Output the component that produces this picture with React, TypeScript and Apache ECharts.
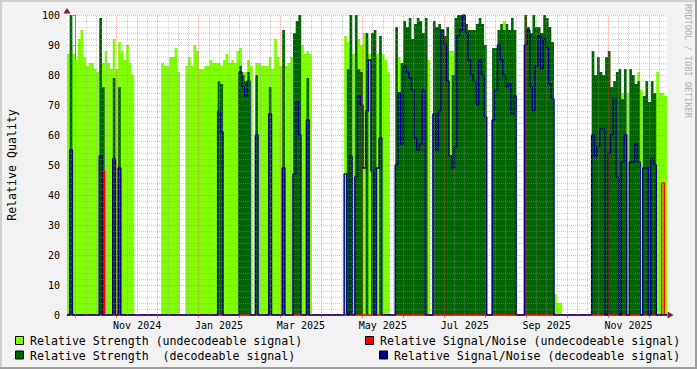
import React, { useEffect, useRef } from "react";
import * as echarts from "echarts";

// x axis: months since 1 Oct 2024 (one unit = one month column of the RRD grid)
const X_MIN = -0.2125;
const X_MAX = 14.4396;
const MONTH_TICKS = [0, 1, 2, 3, 4, 5, 6, 7, 8, 9, 10, 11, 12, 13, 14];
const X_LABEL_MONTHS = [1, 3, 5, 7, 9, 11, 13];
const X_LABELS = ["Nov 2024", "Jan 2025", "Mar 2025", "May 2025", "Jul 2025", "Sep 2025", "Nov 2025"];
const Y_TITLE = "Relative Quality";
const WATERMARK = "RRDTOOL / TOBI OETIKER";

const SERIES_NAMES = [
  "Relative Strength (undecodeable signal)",
  "Relative Signal/Noise (undecodeable signal)",
  "Relative Strength  (decodeable signal)",
  "Relative Signal/Noise (decodeable signal)",
];
const COLORS = ["#7FFF00", "#FF0000", "#006400", "#00008B"];

// one sample = 2 days
const STRENGTH_UNDECODEABLE = [
  87, 90, 87, 85, 92, 95, 86, 83, 84, 84,
  82, 81, 94, 84, 88, 84, 82, 92, 82, 91,
  88, 85, 90, 84, 80, 0, 0, 0, 0, 0,
  0, 0, 0, 0, 0, 84, 83, 83, 86, 86,
  89, 81, 0, 0, 83, 86, 83, 90, 88, 82,
  82, 83, 83, 85, 84, 84, 84, 83, 85, 87,
  84, 85, 84, 88, 89, 81, 81, 85, 83, 0,
  84, 84, 83, 83, 83, 86, 82, 92, 86, 83,
  90, 83, 84, 86, 92, 96, 94, 90, 87, 88,
  87, 0, 0, 0, 0, 0, 0, 0, 0, 0,
  0, 0, 0, 93, 91, 89, 87, 88, 92, 90,
  94, 92, 87, 88, 86, 87, 88, 87, 85, 81,
  0, 0, 0, 86, 84, 86, 0, 86, 0, 86,
  0, 0, 0, 93, 85, 0, 0, 0, 0, 0,
  0, 0, 88, 88, 0, 0, 0, 0, 0, 0,
  0, 0, 0, 0, 0, 0, 0, 0, 0, 0,
  0, 0, 98, 0, 0, 0, 0, 0, 0, 0,
  0, 0, 0, 0, 0, 0, 0, 0, 0, 0,
  0, 7, 4, 4, 0, 0, 0, 0, 0, 0,
  0, 0, 0, 0, 0, 0, 0, 0, 0, 0,
  0, 0, 0, 0, 0, 71, 74, 0, 74, 0,
  0, 0, 81, 75, 0, 0, 0, 0, 72, 81,
  74, 74, 73,
];

const SNR_UNDECODEABLE = [
  0, 0, 0, 0, 0, 0, 0, 0, 0, 0,
  0, 0, 0, 48, 0, 0, 0, 0, 0, 0,
  0, 0, 0, 0, 0, 0, 0, 0, 0, 0,
  0, 0, 0, 0, 0, 0, 0, 0, 0, 0,
  0, 0, 0, 0, 0, 0, 0, 0, 0, 0,
  0, 0, 0, 0, 0, 0, 0, 0, 0, 0,
  0, 0, 0, 0, 0, 0, 0, 0, 0, 0,
  0, 0, 0, 0, 0, 0, 0, 0, 0, 0,
  0, 0, 0, 0, 0, 0, 0, 0, 0, 0,
  0, 0, 0, 0, 0, 0, 0, 0, 0, 0,
  0, 0, 0, 0, 0, 0, 0, 0, 0, 0,
  0, 0, 0, 0, 0, 0, 0, 0, 0, 0,
  0, 0, 0, 0, 0, 0, 0, 0, 0, 0,
  0, 0, 0, 0, 0, 0, 0, 0, 0, 0,
  0, 0, 0, 0, 0, 0, 0, 0, 0, 0,
  0, 0, 0, 0, 0, 0, 0, 0, 0, 0,
  0, 0, 0, 0, 0, 0, 0, 0, 0, 0,
  0, 0, 0, 0, 0, 0, 0, 0, 0, 0,
  0, 0, 0, 0, 0, 0, 0, 0, 0, 0,
  0, 0, 0, 0, 0, 0, 0, 0, 0, 0,
  0, 0, 0, 0, 0, 0, 0, 0, 0, 0,
  0, 0, 0, 0, 0, 0, 0, 0, 0, 0,
  0, 44, 0,
];

const STRENGTH_DECODEABLE = [
  0, 100, 0, 0, 0, 0, 0, 0, 0, 0,
  0, 0, 99, 76, 0, 0, 0, 79, 0, 76,
  0, 0, 0, 0, 0, 0, 0, 0, 0, 0,
  0, 0, 0, 0, 0, 0, 0, 0, 0, 0,
  0, 0, 0, 0, 0, 0, 0, 0, 0, 0,
  0, 0, 0, 0, 0, 0, 78, 77, 0, 0,
  0, 0, 0, 0, 83, 80, 78, 81, 0, 0,
  80, 0, 0, 0, 0, 76, 0, 0, 0, 0,
  95, 0, 0, 0, 94, 98, 100, 0, 0, 79,
  0, 0, 0, 0, 0, 0, 0, 0, 0, 0,
  0, 0, 0, 0, 82, 100, 0, 100, 82, 81,
  0, 94, 0, 94, 95, 0, 93, 0, 0, 0,
  0, 0, 96, 74, 84, 98, 96, 99, 92, 97,
  99, 98, 94, 99, 0, 0, 98, 96, 97, 95,
  93, 96, 53, 80, 99, 100, 100, 100, 97, 95,
  95, 95, 97, 99, 97, 90, 0, 0, 89, 89,
  95, 97, 95, 97, 95, 99, 95, 0, 0, 0,
  100, 96, 94, 100, 96, 96, 94, 100, 99, 96,
  91, 0, 0, 0, 0, 0, 0, 0, 0, 0,
  0, 0, 0, 0, 0, 88, 80, 86, 81, 80,
  86, 88, 76, 78, 81, 82, 72, 82, 0, 82,
  80, 77, 78, 0, 73, 78, 71, 78, 74, 0,
  0, 0, 0,
];

const SNR_DECODEABLE = [
  0, 55, 0, 0, 0, 0, 0, 0, 0, 0,
  0, 0, 53, 0, 0, 0, 0, 52, 0, 49,
  0, 0, 0, 0, 0, 0, 0, 0, 0, 0,
  0, 0, 0, 0, 0, 0, 0, 0, 0, 0,
  0, 0, 0, 0, 0, 0, 0, 0, 0, 0,
  0, 0, 0, 0, 0, 0, 68, 61, 0, 0,
  0, 0, 0, 0, 81, 76, 73, 78, 0, 0,
  60, 0, 0, 0, 0, 67, 0, 0, 0, 0,
  49, 0, 0, 0, 47, 71, 60, 0, 0, 65,
  0, 0, 0, 0, 0, 0, 0, 0, 0, 0,
  0, 0, 0, 47, 0, 53, 0, 46, 73, 70,
  49, 68, 85, 48, 0, 49, 59, 0, 0, 0,
  0, 0, 50, 74, 57, 83, 81, 79, 75, 59,
  55, 57, 75, 0, 0, 0, 67, 55, 68, 95,
  90, 78, 53, 49, 56, 93, 95, 100, 94, 85,
  80, 78, 70, 85, 80, 66, 0, 0, 65, 75,
  90, 85, 80, 76, 77, 67, 73, 0, 0, 0,
  90, 95, 76, 68, 83, 93, 82, 92, 89, 77,
  72, 0, 0, 0, 0, 0, 0, 0, 0, 0,
  0, 0, 0, 0, 0, 60, 53, 56, 62, 62,
  0, 54, 60, 72, 46, 0, 51, 60, 0, 51,
  51, 57, 51, 0, 49, 49, 0, 52, 50, 0,
  0, 0, 0,
];

const FONT = '"DejaVu Sans Mono", monospace';
const GRID_MINOR = "rgba(150,150,150,0.45)";
const GRID_MAJOR = "rgba(222,79,79,0.45)";
const TICK_MAJOR = "rgba(222,79,79,0.7)";
const ARROW = "#801f1f";

function toPoints(vals: number[]) {
  const n = vals.length;
  const step = (X_MAX - X_MIN) / n;
  const pts: number[][] = vals.map((v, i) => [X_MIN + i * step, v]);
  pts.push([X_MAX, vals[n - 1]]);
  return pts;
}

function areaSeries(name: string, vals: number[], color: string) {
  return {
    name,
    type: "line",
    step: "end",
    data: toPoints(vals),
    symbol: "none",
    showSymbol: false,
    silent: true,
    lineStyle: { width: 0, color },
    itemStyle: { color },
    areaStyle: { color, opacity: 1 },
    emphasis: { disabled: true },
    z: 2,
  };
}

function lineSeries(name: string, vals: number[], color: string) {
  return {
    name,
    type: "line",
    step: "end",
    data: toPoints(vals),
    symbol: "none",
    showSymbol: false,
    silent: true,
    lineStyle: { width: 1.5, color },
    itemStyle: { color },
    emphasis: { disabled: true },
    z: 2,
  };
}

export default function App() {
  const ref = useRef<HTMLDivElement>(null);

  useEffect(() => {
    document.body.style.margin = "0";
    const chart = echarts.init(ref.current!, null, { renderer: "svg" });

    const majorV = MONTH_TICKS.map((m) => ({ xAxis: m }));
    const minorV: any[] = [];
    MONTH_TICKS.forEach((m) => {
      [0.25, 0.5, 0.75].forEach((q) => {
        if (m + q < X_MAX) minorV.push({ xAxis: m + q });
      });
    });
    const majorH: any[] = [];
    const minorH: any[] = [];
    for (let v = 2; v <= 100; v += 2) {
      if (v % 10 === 0) majorH.push({ yAxis: v });
      else minorH.push({ yAxis: v });
    }
    const labelPos = X_LABEL_MONTHS.map((m) => m + 0.5);

    const gridSeries = (data: any[], color: string) => ({
      type: "line",
      data: [[X_MIN, 0]],
      symbol: "none",
      silent: true,
      lineStyle: { width: 0 },
      z: 5,
      markLine: {
        silent: true,
        symbol: ["none", "none"],
        animation: false,
        label: { show: false },
        lineStyle: { color, width: 1, type: [1, 1] },
        data,
      },
    });

    const legendItems = [
      { box: [15.5, 336.5], text: [30, 341], i: 0 },
      { box: [365.5, 336.5], text: [380, 341], i: 1 },
      { box: [15.5, 351], text: [30, 355.5], i: 2 },
      { box: [379.5, 351], text: [394, 355.5], i: 3 },
    ];
    const legendGraphics: any[] = [];
    legendItems.forEach((it) => {
      legendGraphics.push({
        type: "rect",
        shape: { x: it.box[0], y: it.box[1], width: 8, height: 8 },
        style: { fill: COLORS[it.i], stroke: "#000", lineWidth: 1 },
        silent: true,
      });
      legendGraphics.push({
        type: "text",
        x: it.text[0],
        y: it.text[1],
        style: {
          text: SERIES_NAMES[it.i],
          font: `11.6px ${FONT}`,
          fill: "#000",
          align: "left",
          verticalAlign: "middle",
        },
        silent: true,
      });
    });

    chart.setOption({
      animation: false,
      backgroundColor: "#f2f2f2",
      grid: {
        left: 67,
        right: 30,
        top: 15,
        bottom: 54,
        show: true,
        backgroundColor: "#ffffff",
        borderWidth: 0,
      },
      xAxis: {
        type: "value",
        min: X_MIN,
        max: X_MAX,
        axisLine: { show: true, lineStyle: { color: "#888", width: 1 } },
        axisTick: {
          show: true,
          customValues: MONTH_TICKS,
          length: 3,
          lineStyle: { color: TICK_MAJOR },
        },
        axisLabel: {
          show: true,
          customValues: labelPos,
          margin: 5,
          fontFamily: FONT,
          fontSize: 10,
          color: "#000",
          formatter: (v: number) => {
            const k = labelPos.findIndex((p) => Math.abs(p - v) < 1e-6);
            return k >= 0 ? X_LABELS[k] : "";
          },
        },
        splitLine: { show: false },
      },
      yAxis: {
        type: "value",
        min: 0,
        max: 100,
        interval: 10,
        axisLine: { show: true, lineStyle: { color: "#888", width: 1 } },
        axisTick: { show: true, length: 3, lineStyle: { color: TICK_MAJOR } },
        axisLabel: { fontFamily: FONT, fontSize: 10, color: "#000", margin: 7 },
        splitLine: { show: false },
      },
      series: [
        areaSeries(SERIES_NAMES[0], STRENGTH_UNDECODEABLE, COLORS[0]),
        areaSeries(SERIES_NAMES[2], STRENGTH_DECODEABLE, COLORS[2]),
        lineSeries(SERIES_NAMES[1], SNR_UNDECODEABLE, COLORS[1]),
        lineSeries(SERIES_NAMES[3], SNR_DECODEABLE, COLORS[3]),
        gridSeries([...minorV, ...minorH], GRID_MINOR),
        gridSeries([...majorV, ...majorH], GRID_MAJOR),
      ],
      graphic: [
        { type: "rect", shape: { x: 0, y: 0, width: 697, height: 2 }, style: { fill: "#cfcfcf" }, silent: true },
        { type: "rect", shape: { x: 0, y: 0, width: 2, height: 369 }, style: { fill: "#cfcfcf" }, silent: true },
        { type: "rect", shape: { x: 0, y: 367, width: 697, height: 2 }, style: { fill: "#9e9e9e" }, silent: true },
        { type: "rect", shape: { x: 695, y: 0, width: 2, height: 369 }, style: { fill: "#9e9e9e" }, silent: true },
        {
          type: "polygon",
          shape: { points: [[63.5, 13.5], [70.5, 13.5], [67, 8]] },
          style: { fill: ARROW },
          silent: true,
        },
        {
          type: "polygon",
          shape: { points: [[667.5, 311.5], [667.5, 318.5], [673.5, 315]] },
          style: { fill: ARROW },
          silent: true,
        },
        {
          type: "text",
          x: 12,
          y: 165,
          rotation: Math.PI / 2,
          style: {
            text: Y_TITLE,
            font: `11.6px ${FONT}`,
            fill: "#000",
            align: "center",
            verticalAlign: "middle",
          },
          silent: true,
        },
        {
          type: "text",
          x: 688,
          y: 61,
          rotation: -Math.PI / 2,
          style: {
            text: WATERMARK,
            font: `8.6px ${FONT}`,
            fill: "#b0b0b0",
            align: "center",
            verticalAlign: "middle",
          },
          silent: true,
        },
        ...legendGraphics,
      ],
    });

    return () => chart.dispose();
  }, []);

  return <div ref={ref} style={{ width: 697, height: 369 }} />;
}
